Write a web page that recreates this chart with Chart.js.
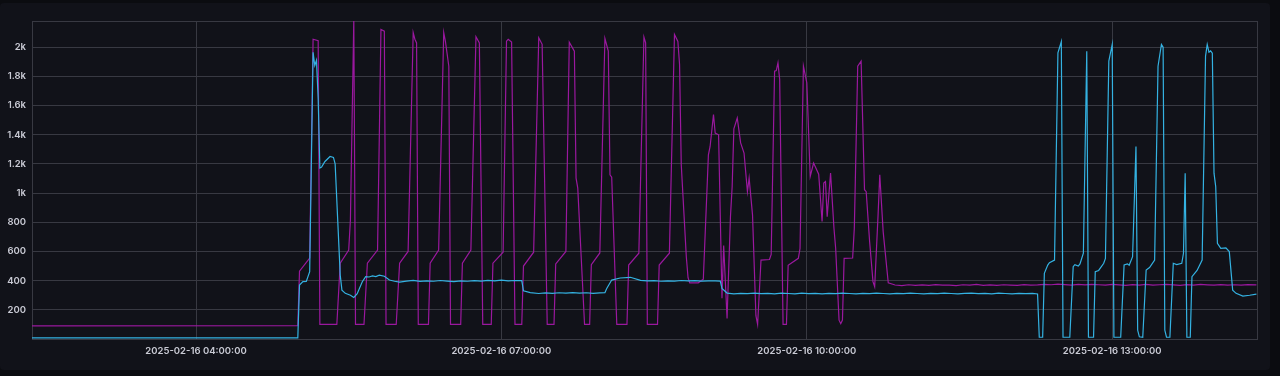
<!DOCTYPE html>
<html>
<head>
<meta charset="utf-8">
<script src="https://cdn.jsdelivr.net/npm/chart.js@4.4.1/dist/chart.umd.min.js"></script>
<style>
    html, body { margin: 0; padding: 0; background: #0b0c10; }
    #panel { position: absolute; left: 0; top: 3px; width: 1270px; height: 367px; background: #111219; border-radius: 4px; }
    #wrap { position: absolute; left: 0; top: 0; width: 1280px; height: 376px; }
</style>
</head>
<body>
<div id="panel"></div>
<div id="wrap"><canvas id="chart" width="1280" height="376"></canvas></div>
<script>
const dateLabel = "2025-02-16";
const xStart = "02:23:20";
const xEnd = "14:25:20";
const xTickTimes = ["04:00:00", "07:00:00", "10:00:00", "13:00:00"];
const yTickValues = [200, 400, 600, 800, 1000, 1200, 1400, 1600, 1800, 2000];
const yMax = 2180;

const magentaTimes = [
    "02:23", "05:00", "05:01", "05:07", "05:09", "05:12", "05:13", "05:23", "05:25", "05:30",
    "05:31", "05:33", "05:34", "05:39", "05:41", "05:47", "05:49", "05:51", "05:52", "05:58",
    "06:00", "06:05", "06:08", "06:09", "06:10", "06:11", "06:17", "06:18", "06:23", "06:26",
    "06:27", "06:29", "06:30", "06:36", "06:37", "06:42", "06:45", "06:47", "06:49", "06:54",
    "06:55", "07:01", "07:03", "07:04", "07:06", "07:08", "07:12", "07:13", "07:19", "07:22",
    "07:24", "07:27", "07:31", "07:32", "07:38", "07:40", "07:43", "07:44", "07:45", "07:49",
    "07:52", "07:53", "07:58", "08:01", "08:03", "08:04", "08:05", "08:08", "08:14", "08:15",
    "08:21", "08:24", "08:25", "08:26", "08:32", "08:33", "08:39", "08:42", "08:44", "08:45",
    "08:46", "08:49", "08:50", "08:51", "08:56", "08:59", "09:02", "09:03", "09:05", "09:06",
    "09:08", "09:10", "09:11", "09:13", "09:15", "09:16", "09:17", "09:19", "09:21", "09:23",
    "09:25", "09:26", "09:28", "09:30", "09:31", "09:33", "09:38", "09:39", "09:41", "09:42",
    "09:43", "09:44", "09:46", "09:48", "09:49", "09:55", "09:56", "09:58", "10:00", "10:02",
    "10:04", "10:07", "10:09", "10:10", "10:11", "10:12", "10:14", "10:16", "10:17", "10:19",
    "10:20", "10:21", "10:22", "10:27", "10:28", "10:30", "10:32", "10:34", "10:35", "10:37",
    "10:39", "10:40", "10:42", "10:43", "10:45", "10:48", "10:52", "10:56", "11:00", "11:04",
    "11:08", "11:12", "11:16", "11:20", "11:24", "11:28", "11:32", "11:36", "11:40", "11:44",
    "11:48", "11:52", "11:56", "12:00", "12:04", "12:08", "12:12", "12:16", "12:20", "12:24",
    "12:28", "12:32", "12:36", "12:40", "12:44", "12:48", "12:52", "12:56", "13:00", "13:04",
    "13:08", "13:12", "13:16", "13:20", "13:24", "13:28", "13:32", "13:36", "13:40", "13:44",
    "13:48", "13:52", "13:56", "14:00", "14:04", "14:08", "14:12", "14:16", "14:20", "14:25"
];
const magentaValues = [
    90, 92, 465, 555, 2055, 2045, 100, 100, 520, 610,
    816, 2190, 100, 100, 520, 610, 2122, 2110, 100, 100,
    520, 600, 2100, 2055, 2030, 100, 100, 520, 610, 2100,
    2040, 1870, 100, 100, 520, 610, 2072, 2030, 100, 100,
    520, 595, 2042, 2055, 2035, 100, 100, 500, 595, 2065,
    2020, 100, 100, 515, 600, 2035, 1973, 1103, 1034, 100,
    100, 510, 590, 2060, 1973, 1126, 1110, 100, 100, 507,
    588, 2070, 2030, 100, 100, 507, 588, 2088, 2040, 1882,
    1195, 560, 420, 385, 385, 410, 1263, 1320, 1538, 1412,
    1400, 280, 640, 141, 840, 1045, 1440, 1515, 1344, 1275,
    1011, 1103, 851, 160, 100, 541, 545, 580, 1836, 1840,
    1893, 1780, 100, 100, 505, 553, 620, 1870, 1756, 1114,
    1206, 1130, 805, 1069, 1080, 839, 1137, 759, 622, 129,
    105, 130, 553, 555, 760, 1870, 1905, 1023, 1010, 670,
    393, 358, 851, 1126, 736, 385, 370, 366, 372, 368,
    371, 367, 373, 369, 370, 366, 372, 369, 374, 368,
    371, 367, 372, 370, 368, 373, 370, 371, 374, 372,
    376, 373, 370, 374, 371, 375, 372, 370, 374, 371,
    368, 373, 370, 374, 369, 372, 375, 371, 368, 373,
    370, 374, 371, 369, 373, 370, 372, 369, 373, 371
];

const cyanTimes = [
    "02:23", "05:00", "05:01", "05:03", "05:05", "05:07", "05:09", "05:10", "05:11", "05:12",
    "05:13", "05:14", "05:16", "05:19", "05:21", "05:22", "05:25", "05:26", "05:28", "05:31",
    "05:33", "05:35", "05:38", "05:40", "05:42", "05:44", "05:46", "05:48", "05:51", "05:54",
    "05:57", "06:00", "06:04", "06:08", "06:12", "06:16", "06:20", "06:24", "06:28", "06:32",
    "06:36", "06:40", "06:44", "06:48", "06:52", "06:56", "07:00", "07:04", "07:08", "07:12",
    "07:13", "07:17", "07:22", "07:26", "07:30", "07:34", "07:38", "07:42", "07:46", "07:50",
    "07:54", "07:58", "08:01", "08:02", "08:05", "08:10", "08:16", "08:22", "08:26", "08:30",
    "08:34", "08:38", "08:42", "08:46", "08:50", "08:54", "08:58", "09:02", "09:06", "09:09",
    "09:10", "09:13", "09:17", "09:21", "09:25", "09:29", "09:33", "09:37", "09:41", "09:45",
    "09:49", "09:53", "09:57", "10:01", "10:05", "10:09", "10:13", "10:17", "10:21", "10:25",
    "10:29", "10:33", "10:37", "10:41", "10:45", "10:49", "10:53", "10:57", "11:01", "11:05",
    "11:09", "11:13", "11:17", "11:21", "11:25", "11:29", "11:33", "11:37", "11:41", "11:45",
    "11:49", "11:53", "11:57", "12:01", "12:05", "12:09", "12:13", "12:16", "12:17", "12:19",
    "12:20", "12:22", "12:23", "12:26", "12:28", "12:30", "12:31", "12:35", "12:37", "12:38",
    "12:40", "12:41", "12:43", "12:45", "12:46", "12:49", "12:50", "12:52", "12:55", "12:56",
    "12:58", "13:00", "13:01", "13:05", "13:07", "13:09", "13:10", "13:12", "13:14", "13:15",
    "13:16", "13:18", "13:20", "13:22", "13:25", "13:27", "13:29", "13:30", "13:31", "13:32",
    "13:34", "13:36", "13:38", "13:41", "13:42", "13:43", "13:44", "13:46", "13:47", "13:50",
    "13:53", "13:55", "13:56", "13:57", "13:58", "13:59", "14:00", "14:01", "14:02", "14:04",
    "14:07", "14:09", "14:11", "14:13", "14:17", "14:21", "14:25"
];
const cyanValues = [
    8, 8, 370, 393, 395, 461, 1965, 1875, 1910, 1650,
    1172, 1178, 1217, 1251, 1245, 1200, 438, 335, 313, 300,
    285, 310, 393, 427, 425, 432, 428, 438, 430, 404,
    396, 390, 397, 402, 395, 399, 396, 401, 397, 394,
    399, 396, 400, 397, 402, 398, 403, 399, 401, 400,
    330, 318, 312, 316, 313, 317, 314, 318, 315, 317,
    313, 316, 318, 345, 404, 418, 423, 402, 398, 400,
    396, 399, 397, 401, 398, 400, 397, 399, 398, 397,
    347, 315, 310, 313, 311, 315, 311, 313, 310, 314,
    312, 310, 314, 311, 313, 310, 313, 311, 315, 312,
    310, 313, 311, 314, 312, 310, 313, 311, 314, 312,
    309, 313, 311, 314, 312, 310, 313, 315, 311, 313,
    310, 314, 312, 310, 313, 311, 313, 309, 12, 12,
    450, 507, 523, 541, 1962, 2038, 12, 12, 496, 510,
    500, 515, 588, 1973, 12, 12, 461, 470, 519, 553,
    1905, 2019, 12, 12, 507, 515, 505, 564, 1320, 60,
    15, 12, 473, 490, 541, 1870, 2019, 2000, 60, 12,
    12, 519, 510, 519, 588, 1137, 12, 12, 427, 470,
    541, 1939, 2019, 1966, 1975, 1960, 1137, 1045, 656, 622,
    625, 599, 335, 313, 294, 300, 308
];

function toMinutes(t) {
    const p = t.split(":").map(Number);
    return p[0] * 60 + p[1] + (p[2] || 0) / 60;
}

function pad(n) {
    return String(n).padStart(2, "0");
}

function formatTime(min) {
    const total = Math.round(min * 60);
    const h = Math.floor(total / 3600);
    const m = Math.floor((total % 3600) / 60);
    const s = total % 60;
    return dateLabel + " " + pad(h) + ":" + pad(m) + ":" + pad(s);
}

function points(times, values) {
    return times.map(function (t, i) {
        return { x: toMinutes(t), y: values[i] };
    });
}

const gridColor = "#383942";
const textColor = "#c9cad4";
const xMin = toMinutes(xStart);
const xMax = toMinutes(xEnd);

new Chart(document.getElementById("chart"), {
    type: "line",
    data: {
        datasets: [
            {
                label: "cyan",
                data: points(cyanTimes, cyanValues),
                borderColor: "#34b2e2",
                borderWidth: 1.2,
                pointRadius: 0,
                tension: 0,
                order: 0,
            },
            {
                label: "magenta",
                data: points(magentaTimes, magentaValues),
                borderColor: "#9a189e",
                borderWidth: 1.2,
                pointRadius: 0,
                tension: 0,
                order: 1,
            },
        ],
    },
    options: {
        responsive: false,
        animation: false,
        devicePixelRatio: 1,
        layout: {
            padding: { top: 21, right: 23, left: 0, bottom: 0 },
        },
        plugins: {
            legend: { display: false },
            tooltip: { enabled: false },
        },
        scales: {
            x: {
                type: "linear",
                min: xMin,
                max: xMax,
                afterFit: function (scale) {
                    scale.height = 37;
                },
                afterBuildTicks: function (scale) {
                    const vals = [xMin].concat(xTickTimes.map(toMinutes), [xMax]);
                    scale.ticks = vals.map(function (v) { return { value: v }; });
                },
                grid: { color: gridColor, drawTicks: false },
                border: { color: gridColor },
                ticks: {
                    autoSkip: false,
                    maxRotation: 0,
                    padding: 6,
                    color: textColor,
                    font: { family: "Inter", size: 9.5, weight: "600" },
                    callback: function (value) {
                        if (value === xMin || value === xMax) return "";
                        return formatTime(value);
                    },
                },
            },
            y: {
                min: 0,
                max: yMax,
                afterFit: function (scale) {
                    scale.width = 32;
                },
                afterBuildTicks: function (scale) {
                    const vals = [0].concat(yTickValues, [yMax]);
                    scale.ticks = vals.map(function (v) { return { value: v }; });
                },
                grid: { color: gridColor, drawTicks: false },
                border: { color: gridColor },
                ticks: {
                    autoSkip: false,
                    padding: 6,
                    color: textColor,
                    font: { family: "Inter", size: 9.5, weight: "600" },
                    callback: function (value) {
                        if (value === 0 || value === yMax) return "";
                        return value >= 1000 ? (value / 1000) + "k" : String(value);
                    },
                },
            },
        },
    },
});
</script>
</body>
</html>
